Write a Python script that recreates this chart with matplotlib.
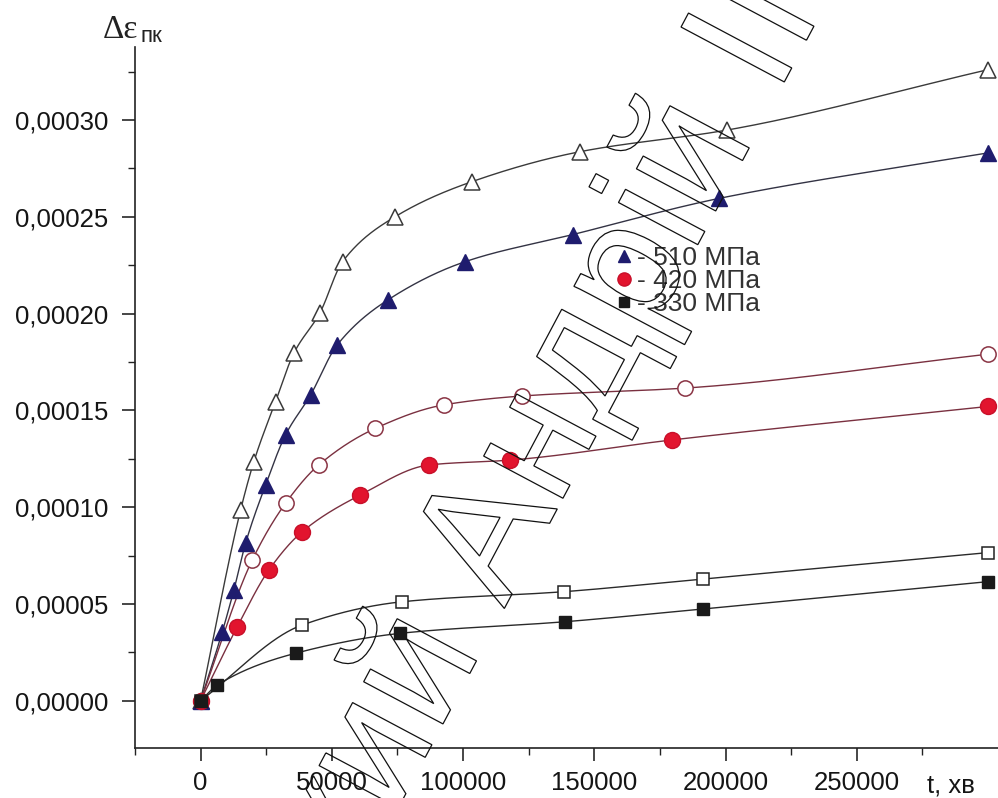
import numpy as np
import matplotlib
matplotlib.use("Agg")
import matplotlib.pyplot as plt
from matplotlib.lines import Line2D
from matplotlib.ticker import FixedLocator, FuncFormatter
from matplotlib.textpath import TextPath
from matplotlib.font_manager import FontProperties
from matplotlib.patches import PathPatch
from matplotlib.transforms import Affine2D

plt.rcParams["font.family"] = ["Liberation Sans", "DejaVu Sans"]

# ---- data: creep strain increment vs time, t in minutes ----
t_510_open = [0, 15230, 20290, 28550, 35520, 45500, 54060, 74080, 103300, 144500, 200600, 300000]
e_510_open = [0, 0.0000985, 0.0001235, 0.0001545, 0.0001795, 0.0002005, 0.0002268, 0.00025,
              0.0002681, 0.0002836, 0.0002948, 0.000326]

t_510 = [0, 8260, 12680, 17130, 24750, 32360, 41880, 52040, 71300, 100800, 141800, 197600, 300000]
e_510 = [0, 0.0000356, 0.0000572, 0.0000813, 0.0001114, 0.0001373, 0.0001579, 0.0001838,
         0.000207, 0.0002268, 0.0002408, 0.0002595, 0.000283]

t_420_open = [0, 19680, 32360, 45040, 66620, 92620, 122470, 184640, 300000]
e_420_open = [0, 0.0000727, 0.000102, 0.0001218, 0.0001407, 0.0001528, 0.0001574, 0.0001615, 0.000179]

t_420 = [0, 13970, 26000, 38720, 60910, 87180, 118020, 179580, 300000]
e_420 = [0, 0.0000382, 0.0000675, 0.0000873, 0.0001063, 0.0001218, 0.0001243, 0.0001347, 0.000152]

t_330_open = [0, 38720, 76790, 138310, 191500, 300000]
e_330_open = [0, 0.0000391, 0.0000511, 0.0000563, 0.0000629, 0.0000765]

t_330 = [0, 6360, 36170, 76140, 138960, 191500, 300000]
e_330 = [0, 0.0000081, 0.0000245, 0.0000348, 0.0000408, 0.0000474, 0.0000615]

legend_labels = ["- 510 МПа", "- 420 МПа", "- 330 МПа"]
x_major = [0, 50000, 100000, 150000, 200000, 250000]
y_major = [0, 0.00005, 0.0001, 0.00015, 0.0002, 0.00025, 0.0003]


def pchip(x, y, xs):
    """Shape-preserving cubic Hermite curve through the points."""
    x = np.asarray(x, float)
    y = np.asarray(y, float)
    h = np.diff(x)
    d = np.diff(y) / h
    m = np.zeros_like(y)
    for k in range(1, len(x) - 1):
        if d[k - 1] * d[k] > 0:
            w1 = 2 * h[k] + h[k - 1]
            w2 = h[k] + 2 * h[k - 1]
            m[k] = (w1 + w2) / (w1 / d[k - 1] + w2 / d[k])
    m[0] = d[0]
    m[-1] = d[-1]
    idx = np.clip(np.searchsorted(x, xs) - 1, 0, len(x) - 2)
    hh = h[idx]
    s = (xs - x[idx]) / hh
    h00 = 2 * s**3 - 3 * s**2 + 1
    h10 = s**3 - 2 * s**2 + s
    h01 = -2 * s**3 + 3 * s**2
    h11 = s**3 - s**2
    return h00 * y[idx] + h10 * hh * m[idx] + h01 * y[idx + 1] + h11 * hh * m[idx + 1]


W, H = 998, 798
fig = plt.figure(figsize=(W / 100, H / 100), dpi=100)
ax = fig.add_axes([135 / W, 49.7 / H, (W - 135) / W, 701.3 / H])
ax.set_xlim(-25000, 303800)
ax.set_ylim(-0.0000246, 0.0003377)

series = [
    (t_510_open, e_510_open, dict(marker="^", ms=11, mfc="white", mec="#3a3a3a", mew=1.1), "#3a3a3a"),
    (t_510, e_510, dict(marker="^", ms=11, mfc="#1f1c6e", mec="#1f1c6e", mew=1.0), "#333344"),
    (t_420_open, e_420_open, dict(marker="o", ms=11, mfc="white", mec="#8a3444", mew=1.1), "#7a3040"),
    (t_420, e_420, dict(marker="o", ms=11.5, mfc="#e2142e", mec="#c8102a", mew=1.0), "#7a3040"),
    (t_330_open, e_330_open, dict(marker="s", ms=9, mfc="white", mec="#222222", mew=1.1), "#2a2a2a"),
    (t_330, e_330, dict(marker="s", ms=9, mfc="#1a1a1a", mec="#1a1a1a", mew=1.0), "#2a2a2a"),
]

for i, (tx, ey, mk, lc) in enumerate(series):
    xs = np.linspace(tx[0], tx[-1], 1500)
    ax.plot(xs, pchip(tx, ey, xs), color=lc, lw=1.0, zorder=2 + i * 0.1)
for i, (tx, ey, mk, lc) in enumerate(series):
    ax.plot(tx, ey, linestyle="none", zorder=4 + i * 0.1, clip_on=False, **mk)

# axes frame: only left and bottom spines
for side in ("top", "right"):
    ax.spines[side].set_visible(False)
for side in ("left", "bottom"):
    ax.spines[side].set_linewidth(1.2)
    ax.spines[side].set_color("#222222")

ax.xaxis.set_major_locator(FixedLocator(x_major))
ax.xaxis.set_minor_locator(FixedLocator(list(range(-25000, 300000, 50000))))
ax.yaxis.set_major_locator(FixedLocator(y_major))
ax.yaxis.set_minor_locator(FixedLocator([-0.000025 + 0.00005 * k for k in range(8)]))

ax.xaxis.set_major_formatter(FuncFormatter(lambda v, p: f"{int(round(v))}"))
ax.yaxis.set_major_formatter(FuncFormatter(lambda v, p: f"{v:.5f}".replace(".", ",")))

ax.tick_params(axis="x", which="major", direction="out", length=9, width=1.1, pad=7,
               labelsize=18.5, colors="#151515")
ax.tick_params(axis="y", which="major", direction="out", length=9.5, width=1.1, pad=10,
               labelsize=18.5, colors="#151515")
ax.tick_params(which="minor", direction="out", length=5, width=1.0, colors="#222222")

# axis titles
fig.text(103 / W, (H - 38) / H, "Δε", family="Liberation Serif", fontsize=24,
         va="baseline", ha="left", color="#222222")
fig.text(140 / W, (H - 42) / H, "пк", fontsize=16, va="baseline", ha="left", color="#222222")
fig.text(927 / W, (H - 793) / H, "t, хв", fontsize=18.5, va="baseline", ha="left", color="#151515")

# legend
handles = [
    Line2D([], [], linestyle="none", marker="^", ms=9, mfc="#1f1c6e", mec="#1f1c6e"),
    Line2D([], [], linestyle="none", marker="o", ms=9.5, mfc="#e2142e", mec="#c8102a"),
    Line2D([], [], linestyle="none", marker="s", ms=7, mfc="#1a1a1a", mec="#1a1a1a"),
]
leg = ax.legend(handles, legend_labels, loc="upper left",
                bbox_to_anchor=(617 / W, (H - 246) / H), bbox_transform=fig.transFigure,
                frameon=False, fontsize=19, handlelength=0.5, handletextpad=0.25,
                labelspacing=-0.04, borderpad=0, borderaxespad=0)
for txt in leg.get_texts():
    txt.set_color("#333333")

# outlined diagonal stamp across the plot
wm_prop = FontProperties(family="Liberation Sans")
wm_size = 170
wm_text = "ський Андрій ІІ"
wm_prefix = "ський Андрій "
wm_path = TextPath((0, 0), wm_text, size=wm_size, prop=wm_prop)
anchor_path = TextPath((0, 0), wm_prefix + "І", size=wm_size, prop=wm_prop)
anchor_x = anchor_path.get_extents().x1 - 0.047 * wm_size
wm_trans = Affine2D().translate(-anchor_x, 0).rotate_deg(62).translate(788, H - 75)
wm_patch = PathPatch(wm_path, transform=wm_trans, fill=False, edgecolor="#111111",
                     lw=0.9, zorder=20)
fig.add_artist(wm_patch)

fig.savefig("out.png", dpi=100)
